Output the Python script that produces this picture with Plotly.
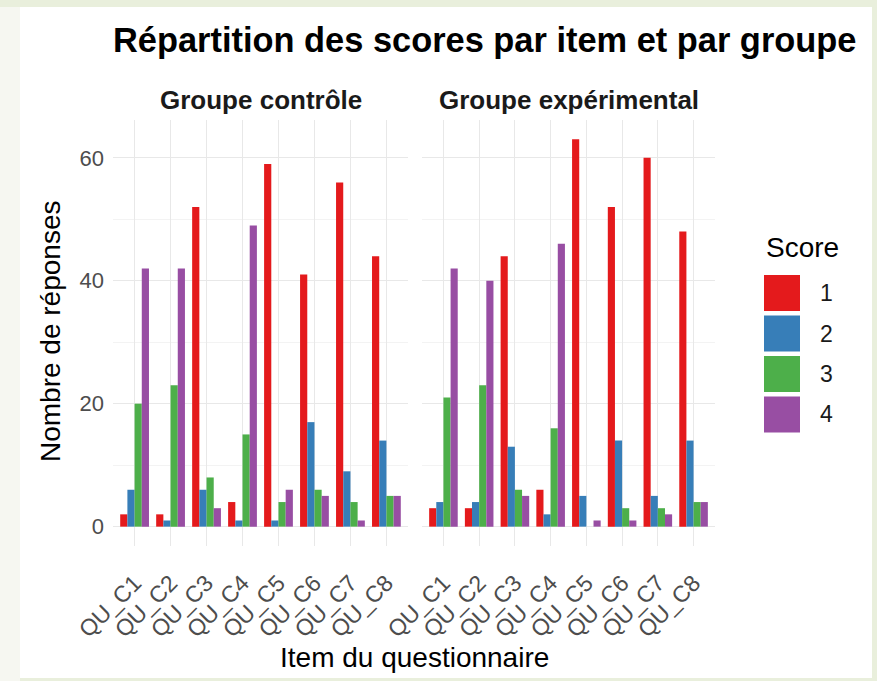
import plotly.graph_objects as go

# ---------------- data ----------------
items = ["QU_C1", "QU_C2", "QU_C3", "QU_C4", "QU_C5", "QU_C6", "QU_C7", "QU_C8"]
scores = ["1", "2", "3", "4"]
colors = ["#E41A1C", "#377EB8", "#4DAF4A", "#984EA3"]
groups = ["Groupe contrôle", "Groupe expérimental"]

control_s1 = [2, 2, 52, 4, 59, 41, 56, 44]
control_s2 = [6, 1, 6, 1, 1, 17, 9, 14]
control_s3 = [20, 23, 8, 15, 4, 6, 4, 5]
control_s4 = [42, 42, 3, 49, 6, 5, 1, 5]

exp_s1 = [3, 3, 44, 6, 63, 52, 60, 48]
exp_s2 = [4, 4, 13, 2, 5, 14, 5, 14]
exp_s3 = [21, 23, 6, 16, 0, 3, 3, 4]
exp_s4 = [42, 40, 5, 46, 1, 1, 2, 4]

y_ticks = [0, 20, 40, 60]

control = [control_s1, control_s2, control_s3, control_s4]
experimental = [exp_s1, exp_s2, exp_s3, exp_s4]

# ---------------- layout geometry ----------------
W, H = 877, 681
L, R, T, B = 113, 162, 120, 135
PW, PH = W - L - R, H - T - B


def px(xp):
    return (xp - L) / PW


def py(yp):
    return (H - B - yp) / PH


FONT = "Liberation Sans, Arial, Helvetica, sans-serif"

fig = go.Figure()

for vals_set, xa, ya in [(control, "x", "y"), (experimental, "x2", "y2")]:
    for s, c, vals in zip(scores, colors, vals_set):
        fig.add_trace(go.Bar(
            x=items, y=vals, name=s, marker=dict(color=c, line=dict(width=0)),
            xaxis=xa, yaxis=ya, showlegend=False, legendgroup=s,
            hovertemplate="%{x}<br>Score " + s + ": %{y}<extra></extra>",
        ))

grid_major = "#e8e8e8"
grid_minor = "#f3f3f3"

xcommon = dict(
    type="category", categoryorder="array", categoryarray=items,
    range=[-0.6, len(items) - 0.4],
    showgrid=True, gridcolor=grid_major, gridwidth=1.3,
    zeroline=False, showline=False, ticks="",
    tickangle=-45, tickfont=dict(family=FONT, size=23, color="#4d4d4d"),
    automargin=False, ticklabelstandoff=18,
)
ycommon = dict(
    range=[-3.15, 66.15], tickmode="array", tickvals=y_ticks,
    showgrid=True, gridcolor=grid_major, gridwidth=1.3,
    minor=dict(tickmode="array", tickvals=[10, 30, 50], showgrid=True,
               gridcolor=grid_minor, gridwidth=0.9, ticks=""),
    zeroline=False, showline=False, ticks="",
    tickfont=dict(family=FONT, size=22, color="#4d4d4d"),
    automargin=False, ticklabelstandoff=8,
)

d1 = [0, px(408)]
d2 = [px(422), 1]

fig.update_layout(
    width=W, height=H,
    template="none",
    margin=dict(l=L, r=R, t=T, b=B, pad=0),
    paper_bgcolor="#e9efdc",
    plot_bgcolor="rgba(0,0,0,0)",
    barmode="group", bargap=0.2, bargroupgap=0,
    showlegend=False,
    xaxis=dict(domain=d1, anchor="y", **xcommon),
    xaxis2=dict(domain=d2, anchor="y2", **xcommon),
    yaxis=dict(domain=[0, 1], anchor="x", **ycommon),
    yaxis2=dict(domain=[0, 1], anchor="x2", matches="y", showticklabels=False,
                **{k: v for k, v in ycommon.items() if k not in ("tickfont", "ticklabelstandoff")}),
)

shapes = [
    # white page area over the light-green frame
    dict(type="rect", xref="paper", yref="paper", layer="below",
         x0=px(0), x1=px(20), y0=py(H), y1=py(7),
         fillcolor="#f6f7f1", line=dict(width=0)),
    dict(type="rect", xref="paper", yref="paper", layer="below",
         x0=px(20), x1=px(872), y0=py(678), y1=py(7),
         fillcolor="white", line=dict(width=0)),
]

annotations = [
    dict(text="<b>Répartition des scores par item et par groupe</b>",
         x=px(484), y=py(40), xref="paper", yref="paper",
         xanchor="center", yanchor="middle", showarrow=False,
         font=dict(family=FONT, size=34.4, color="#000000")),
    dict(text="Item du questionnaire", x=0.5, y=py(657), xref="paper", yref="paper",
         xanchor="center", yanchor="middle", showarrow=False,
         font=dict(family=FONT, size=28, color="#000000")),
    dict(text="Nombre de réponses", x=px(50), y=py(332), xref="paper", yref="paper",
         xanchor="center", yanchor="middle", textangle=-90, showarrow=False,
         font=dict(family=FONT, size=28, color="#000000")),
    dict(text="Score", x=px(764), y=py(247), xref="paper", yref="paper",
         xanchor="left", yanchor="middle", showarrow=False,
         font=dict(family=FONT, size=28, color="#000000")),
]

for g, d in zip(groups, [d1, d2]):
    annotations.append(dict(
        text="<b>" + g + "</b>", x=(d[0] + d[1]) / 2, y=py(100),
        xref="paper", yref="paper", xanchor="center", yanchor="middle",
        showarrow=False, font=dict(family=FONT, size=26, color="#1a1a1a")))

# legend keys
key_top = 275
key_step = 40.5
key_size = 36
for i, (s, c) in enumerate(zip(scores, colors)):
    top = key_top + i * key_step
    shapes.append(dict(type="rect", xref="paper", yref="paper",
                       x0=px(764), x1=px(764 + key_size),
                       y0=py(top + key_size), y1=py(top),
                       fillcolor=c, line=dict(width=0)))
    annotations.append(dict(text=s, x=px(826), y=py(top + key_size / 2),
                            xref="paper", yref="paper", xanchor="center",
                            yanchor="middle", showarrow=False,
                            font=dict(family=FONT, size=23, color="#1a1a1a")))

fig.update_layout(shapes=shapes, annotations=annotations)

fig.write_html("out.html", config={"displayModeBar": False},
               post_script="document.body.style.margin='0';document.body.style.overflow='hidden';")
